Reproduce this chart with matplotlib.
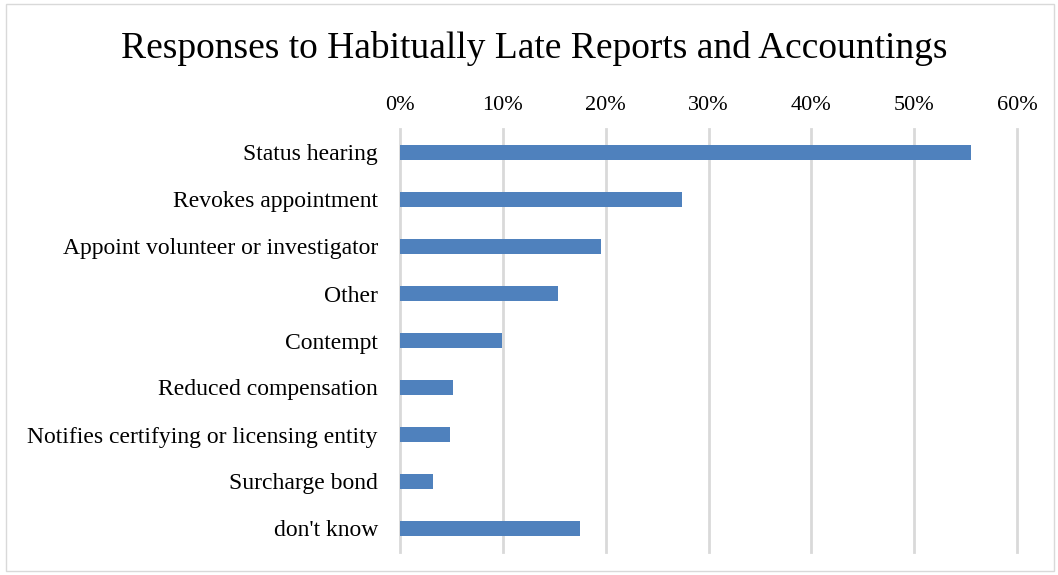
import matplotlib
matplotlib.use('Agg')
import matplotlib.pyplot as plt
from matplotlib.patches import Rectangle
from matplotlib.ticker import FuncFormatter

categories = ["Status hearing", "Revokes appointment", "Appoint volunteer or investigator",
              "Other", "Contempt", "Reduced compensation",
              "Notifies certifying or licensing entity", "Surcharge bond", "don't know"]
values = [55.5, 27.4, 19.5, 15.4, 9.9, 5.2, 4.9, 3.2, 17.5]
ticks = [0, 10, 20, 30, 40, 50, 60]

plt.rcParams['font.family'] = ['Liberation Serif', 'DejaVu Serif']

W, H = 1058, 575
fig = plt.figure(figsize=(W / 100, H / 100), dpi=100)
ax = fig.add_axes([400 / W, 1 - 552 / H, 617 / W, 423 / H])

y = list(range(len(categories)))
ax.barh(y, values, height=0.34, color='#4F81BD', zorder=3)
ax.set_ylim(len(categories) - 0.5, -0.5)
ax.set_yticks(y)
ax.set_yticklabels(categories, fontsize=17)
ax.set_xlim(0, 60)
ax.set_xticks(ticks)
ax.xaxis.set_major_formatter(FuncFormatter(lambda v, p: '%d%%' % v))
ax.xaxis.tick_top()
ax.tick_params(axis='x', labelsize=16, length=0, pad=10)
ax.tick_params(axis='y', length=0, pad=16)
ax.grid(axis='x', color='#D9D9D9', linewidth=2, zorder=0)
for line in ax.get_xgridlines():
    line.set_clip_on(False)
for s in ax.spines.values():
    s.set_visible(False)

fig.text(534 / W, 1 - 49 / H, 'Responses to Habitually Late Reports and Accountings',
         ha='center', va='center', fontsize=27)

fig.patches.append(Rectangle((6 / W, 4 / H), 1048 / W, 567 / H, transform=fig.transFigure,
                             fill=False, edgecolor='#D9D9D9', linewidth=1))

plt.savefig('out.png', dpi=100)
